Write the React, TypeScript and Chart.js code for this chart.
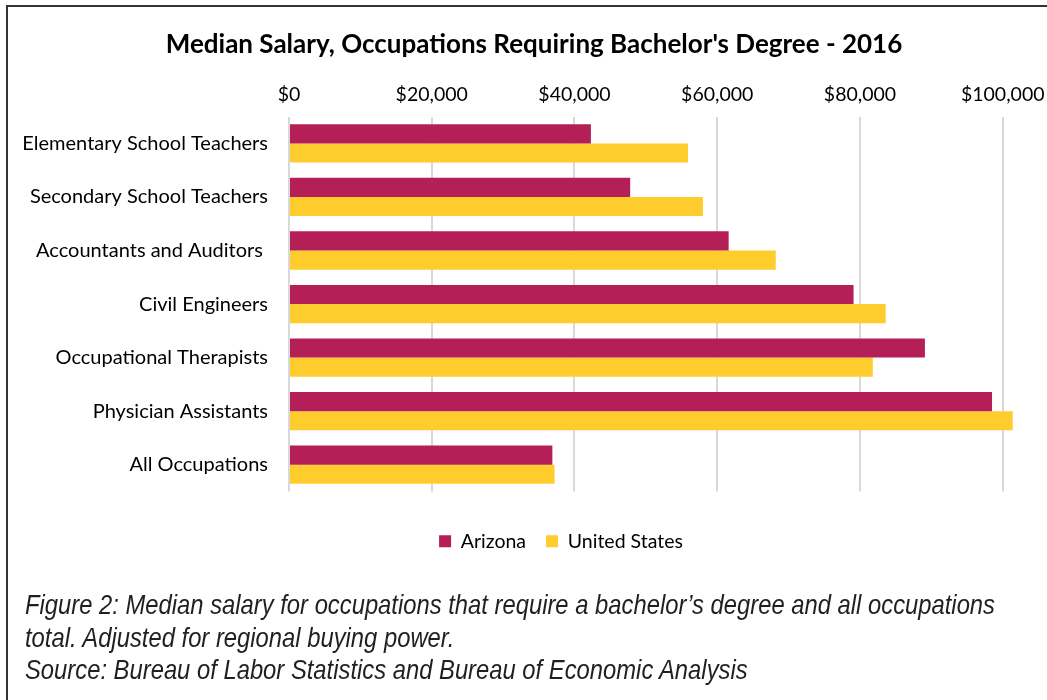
import React, { useEffect, useRef, useState } from "react";
import { Chart, registerables } from "chart.js";

Chart.register(...registerables);

const categories = [
  "Elementary School Teachers",
  "Secondary School Teachers",
  "Accountants and Auditors ",
  "Civil Engineers",
  "Occupational Therapists",
  "Physician Assistants",
  "All Occupations",
];
const arizona = [42300, 47800, 61600, 79100, 89100, 98500, 36900];
const unitedStates = [55900, 58000, 68200, 83600, 81800, 101400, 37200];
const tickValues = [0, 20000, 40000, 60000, 80000, 100000];
const titleText = "Median Salary, Occupations Requiring Bachelor's Degree - 2016";
const captionLines = [
  "Figure 2: Median salary for occupations that require a bachelor\u2019s degree and all occupations",
  "total. Adjusted for regional buying power.",
  "Source: Bureau of Labor Statistics and Bureau of Economic Analysis",
];

const FONT = "Lato, 'Open Sans', sans-serif";
const CAPTION_FONT = "'Liberation Sans', Arial, sans-serif";
const CAPTION_SIZE = 28;

const shiftPlugin = {
  id: "shiftBoxes",
  afterLayout(chart: any) {
    if (chart.titleBlock) {
      chart.titleBlock.left += 16;
      chart.titleBlock.right += 16;
    }
    if (chart.legend) {
      chart.legend.left += 43;
      chart.legend.right += 43;
      chart.legend.top += 20;
      chart.legend.bottom += 20;
    }
  },
};

export default function App() {
  const ref = useRef<HTMLCanvasElement>(null);
  const [scale, setScale] = useState(0.85);

  useEffect(() => {
    document.body.style.overflow = "hidden";
    const c = document.createElement("canvas").getContext("2d")!;
    c.font = `italic ${CAPTION_SIZE}px ${CAPTION_FONT}`;
    const w = c.measureText(captionLines[0]).width;
    if (w > 0) setScale(970 / w);

    const chart = new Chart(ref.current!, {
      type: "bar",
      data: {
        labels: categories,
        datasets: [
          { label: "Arizona", data: arizona, backgroundColor: "#B41F57", categoryPercentage: 0.715, barPercentage: 1 },
          { label: "United States", data: unitedStates, backgroundColor: "#FFCC2E", categoryPercentage: 0.715, barPercentage: 1 },
        ],
      },
      plugins: [shiftPlugin],
      options: {
        indexAxis: "y",
        animation: false,
        responsive: false,
        maintainAspectRatio: false,
        layout: { padding: { left: 19, right: 30, top: 29, bottom: 59 } },
        plugins: {
          title: {
            display: true,
            text: titleText,
            color: "#000",
            font: { family: FONT, size: 26, weight: "bold" },
            padding: { top: 0, bottom: 13 },
          },
          legend: {
            position: "bottom",
            labels: {
              color: "#000",
              font: { family: FONT, size: 19.5 },
              boxWidth: 12,
              boxHeight: 12,
              padding: 20,
            },
          },
          tooltip: { enabled: false },
        },
        scales: {
          x: {
            position: "top",
            min: 0,
            max: 102000,
            afterBuildTicks: (s: any) => {
              s.ticks = tickValues.map((v) => ({ value: v }));
            },
            afterFit: (s: any) => {
              s.paddingLeft = 0;
              s.paddingRight = 0;
            },
            ticks: {
              color: "#000",
              font: { family: FONT, size: 19.5 },
              padding: 10,
              callback: (v: any) => "$" + Number(v).toLocaleString("en-US"),
            },
            grid: { color: "#D9D9D9", lineWidth: 2, drawTicks: false },
            border: { display: false },
          },
          y: {
            afterFit: (s: any) => {
              s.width = 270;
            },
            ticks: {
              color: "#000",
              font: { family: FONT, size: 20 },
              padding: 21,
            },
            grid: { display: false, drawTicks: false },
            border: { display: false },
          },
        },
      },
    });
    return () => chart.destroy();
  }, []);

  return (
    <div style={{ position: "fixed", left: 0, top: 0, width: 1047, height: 700, overflow: "hidden", background: "#fff" }}>
      <div
        style={{
          position: "absolute",
          left: 6,
          top: 5,
          width: 1100,
          height: 800,
          borderLeft: "2px solid #333",
          borderTop: "2px solid #333",
        }}
      />
      <canvas ref={ref} width={1047} height={600} style={{ position: "absolute", left: 0, top: 0, width: 1047, height: 600 }} />
      <div
        style={{
          position: "absolute",
          left: 25,
          top: 589,
          fontFamily: CAPTION_FONT,
          fontStyle: "italic",
          fontSize: CAPTION_SIZE,
          lineHeight: "32.5px",
          color: "#231F20",
          whiteSpace: "nowrap",
          transform: `scaleX(${scale})`,
          transformOrigin: "left top",
        }}
      >
        {captionLines.map((l, i) => (
          <div key={i}>{l}</div>
        ))}
      </div>
    </div>
  );
}
